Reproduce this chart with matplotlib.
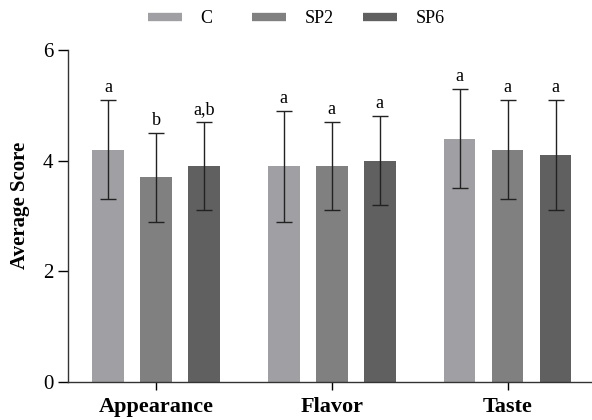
import matplotlib
matplotlib.use("Agg")
import matplotlib.pyplot as plt
import numpy as np

plt.rcParams['font.family'] = ['Liberation Serif', 'DejaVu Serif']

attributes = ["Appearance", "Flavor", "Taste"]
samples = ["C", "SP2", "SP6"]
colors = ["#a0a0a4", "#808080", "#606060"]

# mean scores and standard deviations per sample (rows) x attribute (cols)
means = {
    "C":   [4.2, 3.9, 4.4],
    "SP2": [3.7, 3.9, 4.2],
    "SP6": [3.9, 4.0, 4.1],
}
sds = {
    "C":   [0.9, 1.0, 0.9],
    "SP2": [0.8, 0.8, 0.9],
    "SP6": [0.8, 0.8, 1.0],
}
letters = {
    "C":   ["a", "a", "a"],
    "SP2": ["b", "a", "a"],
    "SP6": ["a,b", "a", "a"],
}

fig = plt.figure(figsize=(5.92, 4.2), dpi=100)
ax = fig.add_axes([0.115, 0.0905, 0.885, 0.7905])

x = np.arange(len(attributes))
width = 0.18
step = 48 / 176

for i, s in enumerate(samples):
    xs = x + (i - 1) * step
    ax.bar(xs, means[s], width, color=colors[i], label=s, zorder=2)
    ax.errorbar(xs, means[s], yerr=sds[s], fmt='none', ecolor='#222222',
                elinewidth=1.0, capsize=6, capthick=1.0, zorder=3)
    for xi, m, sd, lt in zip(xs, means[s], sds[s], letters[s]):
        ax.annotate(lt, (xi, m + sd), xytext=(0, 3), textcoords='offset points',
                    ha='center', va='bottom', fontsize=13)

ax.set_xlim(-0.5, 2.48)
ax.set_ylim(0, 6)
ax.set_yticks([0, 2, 4, 6])
ax.set_xticks(x)
ax.set_xticklabels(attributes, fontsize=16, fontweight='bold')
ax.tick_params(axis='y', labelsize=15, length=7, width=1, direction='out')
ax.tick_params(axis='x', length=6, width=1, direction='out', pad=5)
ax.set_ylabel("Average Score", fontsize=15, fontweight='bold')
ax.yaxis.set_label_coords(-0.073, 0.532)
ax.spines['top'].set_visible(False)
ax.spines['right'].set_visible(False)
for sp in ['left', 'bottom']:
    ax.spines[sp].set_linewidth(1.0)
    ax.spines[sp].set_color('#333333')

# one legend per entry so the uneven spacing of the original can be kept
legend_x = [148, 252, 363]
for c, s, lx in zip(colors, samples, legend_x):
    h = plt.Line2D([0], [0], color=c, lw=6, solid_capstyle='butt')
    fig.legend([h], [s], loc='center left', bbox_to_anchor=(lx / 592, 0.955),
               frameon=False, fontsize=13, handlelength=1.9, handletextpad=1.0,
               borderpad=0, borderaxespad=0)

fig.savefig("out.png", dpi=100)
